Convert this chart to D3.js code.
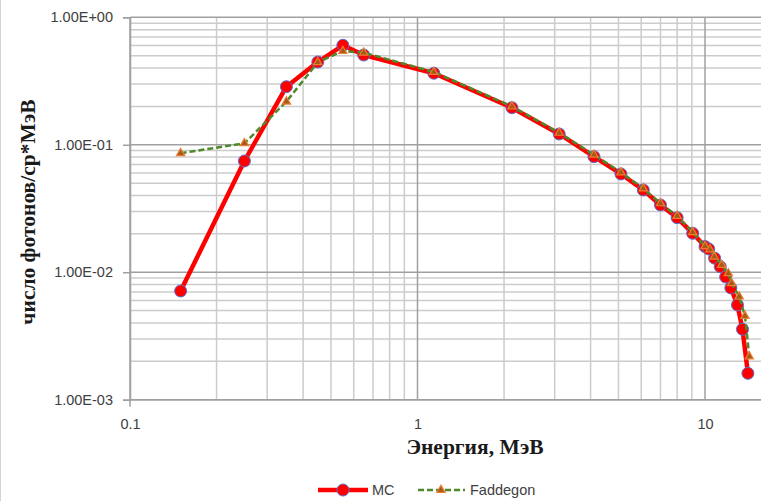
<!DOCTYPE html>
<html><head><meta charset="utf-8">
<script src="https://cdn.jsdelivr.net/npm/d3@7"></script>
<style>body{margin:0;background:#fff}svg{display:block}</style>
</head><body>
<svg id="c" width="761" height="501"></svg>
<script>
const mcE = [0.15,0.25,0.35,0.45,0.55,0.65,1.14,2.13,3.11,4.11,5.1,6.1,7.0,8.0,9.06,10.0,10.3,10.8,11.3,11.8,12.3,12.97,13.5,14.1];
const mcV = [0.00713,0.0746,0.2855,0.446,0.603,0.506,0.364,0.1954,0.1215,0.0807,0.059,0.0442,0.0337,0.0268,0.0202,0.0159,0.01523,0.0129,0.01106,0.00919,0.00753,0.00554,0.00357,0.00161];
const fdE = [0.15,0.25,0.35,0.45,0.55,0.65,1.14,2.13,3.11,4.11,5.1,6.1,7.0,8.0,9.06,10.0,10.4,10.77,11.43,12.05,12.38,13.15,13.77,14.26];
const fdV = [0.0858,0.1027,0.218,0.444,0.544,0.528,0.372,0.2,0.124,0.0834,0.0607,0.0454,0.0347,0.0276,0.0206,0.016,0.0151,0.01325,0.0114,0.00982,0.0082,0.00644,0.00454,0.00218];
const yTickVals = [1,0.1,0.01,0.001];
const yTickLabels = ["1.00E+00","1.00E-01","1.00E-02","1.00E-03"];
const xTickVals = [0.1,1,10];
const xTickLabels = ["0.1","1","10"];
const seriesNames = ["MC","Faddegon"];
const xTitle = "Энергия, МэВ";
const yTitle = "число фотонов/ср*МэВ";

const svg = d3.select("#c");
const L = 130, T = 17.3, B = 399.7, W = 761;
const x = d3.scaleLog().domain([0.1, 1000]).range([L, L + 4*287.5]);
const y = d3.scaleLog().domain([0.001, 1]).range([B, T]);
const sans = "'Liberation Sans', Arial, sans-serif";
const serif = "'Liberation Serif', 'Times New Roman', serif";

svg.append("line").attr("x1",0.5).attr("x2",0.5).attr("y1",0).attr("y2",501).attr("stroke","#d4d4d4").attr("stroke-width",1);

const g = svg.append("g");
const minorX = [], majorX = [];
for (let d = -1; d <= 2; d++) for (let k = 1; k <= 9; k++) {
  const v = k * Math.pow(10, d);
  if (x(v) > W) continue;
  if (k === 1) majorX.push(v); else minorX.push(v);
}
const minorY = [], majorY = [];
for (let d = -3; d <= 0; d++) for (let k = 1; k <= 9; k++) {
  const v = k * Math.pow(10, d);
  if (v > 1.0001) continue;
  if (k === 1) majorY.push(v); else minorY.push(v);
}
g.selectAll(".mx").data(minorX).join("line").attr("x1",d=>x(d)).attr("x2",d=>x(d)).attr("y1",T).attr("y2",B).attr("stroke","#cccccc").attr("stroke-width",1.5);
g.selectAll(".my").data(minorY).join("line").attr("x1",L).attr("x2",W).attr("y1",d=>y(d)).attr("y2",d=>y(d)).attr("stroke","#cccccc").attr("stroke-width",1.5);
g.selectAll(".Mx").data(majorX).join("line").attr("x1",d=>x(d)).attr("x2",d=>x(d)).attr("y1",T).attr("y2",B).attr("stroke","#a0a0a0").attr("stroke-width",1.5);
g.selectAll(".My").data(majorY).join("line").attr("x1",L).attr("x2",W).attr("y1",d=>y(d)).attr("y2",d=>y(d)).attr("stroke","#a0a0a0").attr("stroke-width",1.5);

const yAxis = d3.axisLeft(y).tickValues(yTickVals).tickFormat((d,i)=>yTickLabels[i]).tickSize(7).tickPadding(10);
const ya = svg.append("g").attr("transform",`translate(${L},0)`).call(yAxis);
ya.select(".domain").attr("stroke","#a0a0a0").attr("stroke-width",1.5);
ya.selectAll(".tick line").attr("stroke","#a0a0a0").attr("stroke-width",1.5);
ya.selectAll("text").attr("font-family",sans).attr("font-size",14.5).attr("fill","#404040");

const xAxis = d3.axisBottom(x).tickValues(xTickVals).tickFormat((d,i)=>xTickLabels[i]).tickSize(0).tickPadding(19);
const xa = svg.append("g").attr("transform",`translate(0,${B})`).call(xAxis);
xa.select(".domain").remove();
xa.selectAll("text").attr("font-family",sans).attr("font-size",14.5).attr("fill","#404040");
svg.append("line").attr("x1",L).attr("x2",W).attr("y1",B).attr("y2",B).attr("stroke","#a0a0a0").attr("stroke-width",1.5);
svg.append("line").attr("x1",L).attr("x2",L).attr("y1",B).attr("y2",B+7).attr("stroke","#a0a0a0").attr("stroke-width",1.5);

svg.append("text").attr("x",475).attr("y",454).attr("text-anchor","middle").attr("font-family",serif).attr("font-weight","bold").attr("font-size",21.5).attr("fill","#1a1a1a").text(xTitle);
svg.append("text").attr("transform","translate(35,212) rotate(-90)").attr("text-anchor","middle").attr("font-family",serif).attr("font-weight","bold").attr("font-size",21.5).attr("fill","#1a1a1a").text(yTitle);

const mc = mcE.map((e,i)=>[e,mcV[i]]);
const fd = fdE.map((e,i)=>[e,fdV[i]]);
const line = d3.line().x(d=>x(d[0])).y(d=>y(d[1]));
const tri = d3.symbol().type(d3.symbolTriangle).size(30);

svg.append("path").datum(mc).attr("d",line).attr("fill","none").attr("stroke","#ff0000").attr("stroke-width",4.5).attr("stroke-linejoin","round");
svg.selectAll(".mc").data(mc).join("circle").attr("cx",d=>x(d[0])).attr("cy",d=>y(d[1])).attr("r",6).attr("fill","#ff0000").attr("stroke","#5b6fd0").attr("stroke-width",1);

svg.append("path").datum(fd).attr("d",line).attr("fill","none").attr("stroke","#4e8a2a").attr("stroke-width",2.5).attr("stroke-dasharray","6,3");
svg.selectAll(".fd").data(fd).join("path").attr("d",tri).attr("transform",d=>`translate(${x(d[0])},${y(d[1])})`).attr("fill","#a35a1a").attr("stroke","#ed7d31").attr("stroke-width",1.2);

const ly = 490;
svg.append("line").attr("x1",318).attr("x2",368).attr("y1",ly).attr("y2",ly).attr("stroke","#ff0000").attr("stroke-width",4.5);
svg.append("circle").attr("cx",343).attr("cy",ly).attr("r",6).attr("fill","#ff0000").attr("stroke","#5b6fd0").attr("stroke-width",1);
svg.append("text").attr("x",372).attr("y",ly).attr("dy","0.36em").attr("font-family",sans).attr("font-size",14.5).attr("fill","#404040").text(seriesNames[0]);
svg.append("line").attr("x1",418).attr("x2",465).attr("y1",ly).attr("y2",ly).attr("stroke","#4e8a2a").attr("stroke-width",2.5).attr("stroke-dasharray","6,3");
svg.append("path").attr("d",tri).attr("transform",`translate(441,${ly})`).attr("fill","#a35a1a").attr("stroke","#ed7d31").attr("stroke-width",1.2);
svg.append("text").attr("x",470).attr("y",ly).attr("dy","0.36em").attr("font-family",sans).attr("font-size",14.5).attr("fill","#404040").text(seriesNames[1]);
</script>
</body></html>
